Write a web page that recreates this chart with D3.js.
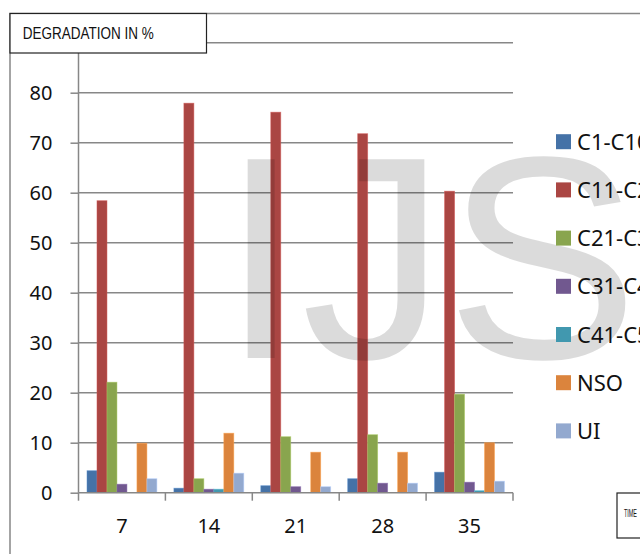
<!DOCTYPE html>
<html><head><meta charset="utf-8">
<script src="https://cdn.jsdelivr.net/npm/d3@7"></script>
<style>html,body{margin:0;padding:0;background:#fff;overflow:hidden}svg{display:block}</style>
</head><body>
<svg id="c" width="640" height="554"></svg>
<script>
const categories = ["7", "14", "21", "28", "35"];
const seriesNames = ["C1-C10", "C11-C20", "C21-C30", "C31-C40", "C41-C50", "NSO", "UI"];
const seriesColors = ["#4572A7", "#AA4643", "#89A54E", "#71588F", "#4198AF", "#DB843D", "#93A9CF"];
const C1_C10  = [4.4, 0.9, 1.4, 2.8, 4.1];
const C11_C20 = [58.4, 77.9, 76.1, 71.8, 60.3];
const C21_C30 = [22.1, 2.8, 11.2, 11.6, 19.7];
const C31_C40 = [1.7, 0.7, 1.2, 1.9, 2.1];
const C41_C50 = [0, 0.7, 0, 0, 0.4];
const NSO     = [9.9, 11.9, 8.1, 8.1, 10.0];
const UI      = [2.8, 3.9, 1.2, 1.9, 2.3];
const yTicks = [0, 10, 20, 30, 40, 50, 60, 70, 80];
const yGrid = [10, 20, 30, 40, 50, 60, 70, 80, 90];
const titleText = "DEGRADATION IN %";
const xTitleText = "TIME";
const watermark = "IJS";

(function () {
const seriesValues = [C1_C10, C11_C20, C21_C30, C31_C40, C41_C50, NSO, UI];
const svg = d3.select("#c");
const pL = 78.5, pR = 513, pT = 42.7, pB = 492.7;
const y = d3.scaleLinear().domain([0, 90]).range([pB, pT]);
const x = d3.scaleBand().domain(categories).range([pL, pR]).padding(0);
const xs = d3.scaleBand().domain(seriesNames).range([8.5, x.bandwidth() - 8.5]).padding(0);
const grey = "#878787";

// outer frame
svg.append("path").attr("d", `M10,554 L10,13.5 L640,13.5`).attr("fill", "none").attr("stroke", grey).attr("stroke-width", 1.5);

// gridlines
svg.append("g").selectAll("line").data(yGrid).join("line")
  .attr("x1", pL).attr("x2", pR).attr("y1", d => y(d)).attr("y2", d => y(d))
  .attr("stroke", grey).attr("stroke-width", 1.5);

// bars
const g = svg.append("g");
seriesNames.forEach((s, i) => {
  g.append("g").selectAll("rect").data(seriesValues[i]).join("rect")
    .attr("x", (d, j) => x(categories[j]) + xs(s))
    .attr("width", xs.bandwidth())
    .attr("y", d => y(d))
    .attr("height", d => pB - y(d))
    .attr("fill", seriesColors[i])
    .attr("stroke", d3.color(seriesColors[i]).brighter(0.6))
    .attr("stroke-opacity", 0.6)
    .attr("stroke-width", 0.8);
});

// y axis
const yAxis = d3.axisLeft(y).tickValues(yTicks).tickSize(8).tickPadding(18).tickFormat(d3.format("d"));
const ya = svg.append("g").attr("transform", `translate(${pL},0)`).call(yAxis);
ya.select(".domain").attr("d", `M0,${pT}V${pB}`).attr("stroke", grey).attr("stroke-width", 1.5);
ya.selectAll(".tick line").attr("stroke", grey).attr("stroke-width", 1.5);
ya.selectAll(".tick text").attr("font-family", "'Noto Sans', sans-serif").attr("font-size", 20).attr("fill", "#111").attr("dy", "0.36em");

// x axis
const xa = svg.append("g").attr("transform", `translate(0,${pB})`);
xa.append("line").attr("x1", pL).attr("x2", pR).attr("stroke", grey).attr("stroke-width", 1.5);
const bounds = categories.map(c => x(c)).concat([pR]);
xa.selectAll("line.t").data(bounds).join("line").attr("class", "t")
  .attr("x1", d => d).attr("x2", d => d).attr("y1", 0).attr("y2", 8).attr("stroke", grey).attr("stroke-width", 1.5);
xa.selectAll("text").data(categories).join("text")
  .attr("x", d => x(d) + x.bandwidth() / 2).attr("y", 40)
  .attr("text-anchor", "middle").attr("font-family", "'Noto Sans', sans-serif").attr("font-size", 20).attr("fill", "#111")
  .text(d => d);

// watermark
svg.append("text").attr("x", 221).attr("y", 358)
  .attr("font-family", "'Liberation Sans', Arial, sans-serif").attr("font-size", 289)
  .attr("fill", "#000").attr("fill-opacity", 0.14).text(watermark);

// title box
svg.append("rect").attr("x", 10).attr("y", 13.5).attr("width", 196.5).attr("height", 39.5)
  .attr("fill", "#fff").attr("stroke", "#222").attr("stroke-width", 1.2);
svg.append("text").attr("x", 22.7).attr("y", 39.3)
  .attr("font-family", "'Liberation Sans', Arial, sans-serif").attr("font-size", 16)
  .attr("textLength", 131).attr("lengthAdjust", "spacingAndGlyphs").attr("fill", "#111").text(titleText);

// legend
const lg = svg.append("g");
seriesNames.forEach((s, i) => {
  const cy = 141.7 + i * 48.2;
  lg.append("rect").attr("x", 556).attr("y", cy - 7.5).attr("width", 15).attr("height", 15).attr("fill", seriesColors[i]);
  lg.append("text").attr("x", 577).attr("y", cy + 8)
    .attr("font-family", "'Noto Sans', sans-serif").attr("font-size", 22).attr("fill", "#111").text(s);
});

// TIME box
svg.append("rect").attr("x", 617).attr("y", 493).attr("width", 40).attr("height", 45)
  .attr("fill", "#fff").attr("stroke", "#222").attr("stroke-width", 1.2);
svg.append("text").attr("x", 624).attr("y", 517)
  .attr("font-family", "'Liberation Sans', Arial, sans-serif").attr("font-size", 10)
  .attr("textLength", 13).attr("lengthAdjust", "spacingAndGlyphs").attr("fill", "#111").text(xTitleText);
})();
</script>
</body></html>
